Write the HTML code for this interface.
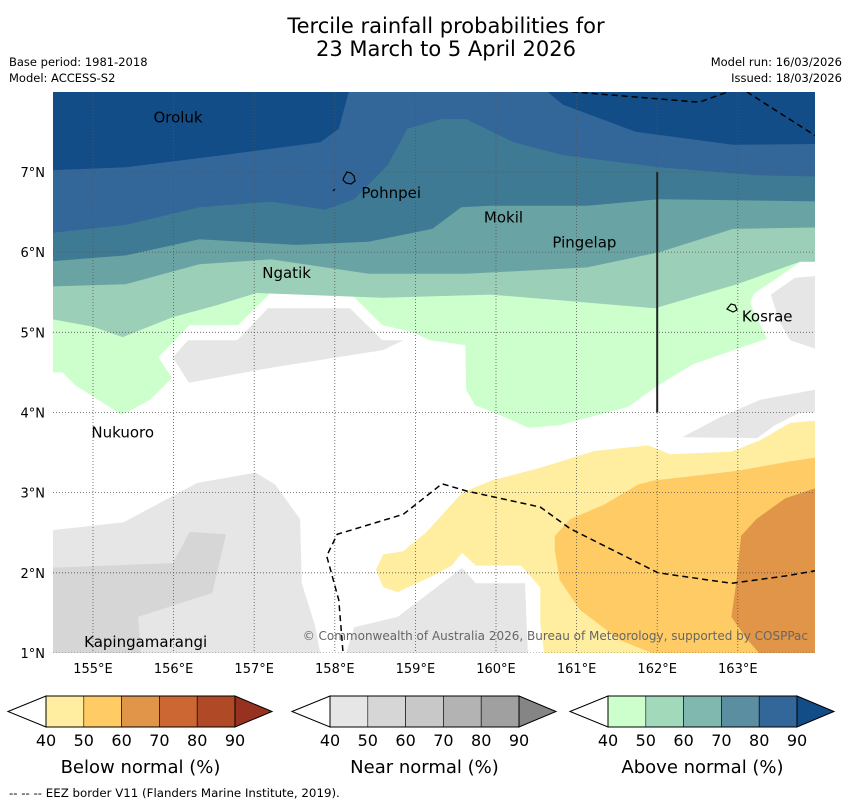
<!DOCTYPE html>
<html><head><meta charset="utf-8">
<style>
body{margin:0;background:#fff;font-family:"Liberation Sans","DejaVu Sans",sans-serif;}
svg text{font-family:"DejaVu Sans","Liberation Sans",sans-serif;}
</style></head>
<body>
<svg id="chart" width="850" height="804" viewBox="0 0 850 804" xmlns="http://www.w3.org/2000/svg">
<defs><clipPath id="mapclip"><rect x="53" y="92" width="762" height="561"/></clipPath></defs>
<text x="446" y="33" font-size="21" text-anchor="middle">Tercile rainfall probabilities for</text>
<text x="446" y="56" font-size="21" text-anchor="middle">23 March to 5 April 2026</text>
<text x="9" y="66" font-size="11.5">Base period: 1981-2018</text>
<text x="9" y="82" font-size="11.5">Model: ACCESS-S2</text>
<text x="842" y="66" font-size="11.5" text-anchor="end">Model run: 16/03/2026</text>
<text x="842" y="82" font-size="11.5" text-anchor="end">Issued: 18/03/2026</text>
<rect x="53" y="92" width="762" height="561" fill="#fff"/>
<g id="fills" clip-path="url(#mapclip)"></g>
<g id="grid" clip-path="url(#mapclip)"></g>
<g id="lines" clip-path="url(#mapclip)"></g>
<g id="labels"></g>
<g id="axes"></g>
<g id="legend"></g>
<text x="9" y="797" font-size="11.8">--  --  -- EEZ border V11 (Flanders Marine Institute, 2019).</text>
</svg>
<script>
// axis ticks
const lonTicks=[155,156,157,158,159,160,161,162,163];
const latTicks=[1,2,3,4,5,6,7];
// contour regions (lon,lat)
const aboveBands=[
 {c:"#ccffcc",b:[[154.4,4.5],[154.62,4.5],[154.78,4.34],[155.36,3.97],[155.71,4.16],[155.98,4.43],[155.81,4.69],[156.2,5.09],[156.8,5.09],[157.2,5.49],[158.19,5.49],[158.59,5.09],[158.97,5.0],[159.18,4.9],[159.62,4.84],[159.63,4.28],[159.74,4.09],[160.05,3.97],[160.4,3.81],[160.79,3.84],[161.64,4.07],[162.0,4.33],[162.44,4.6],[163.36,4.92],[163.15,5.37],[163.2,5.48],[163.78,5.88],[164.1,5.88]]},
 {c:"#9ccfb8",b:[[154.4,5.18],[155,5.07],[155.37,4.94],[155.99,5.19],[156.54,5.34],[157.03,5.49],[158.6,5.43],[159.93,5.47],[160.79,5.4],[161.97,5.3],[162.99,5.6],[163.77,5.88],[164.1,5.88]]},
 {c:"#6aa3a3",b:[[154.4,5.57],[155.41,5.6],[156.32,5.85],[157.21,5.91],[158.42,5.73],[159.63,5.73],[161.13,5.81],[162.03,6.0],[162.94,6.29],[164.1,6.31]]},
 {c:"#3f7a94",b:[[154.4,5.88],[155.41,5.96],[156.32,6.16],[157.52,6.09],[158.42,6.13],[159.21,6.29],[159.57,6.56],[159.93,6.58],[161.13,6.58],[162.03,6.66],[164.1,6.63]]},
 {c:"#336699",b:[[154.4,6.23],[155.41,6.34],[156.32,6.56],[157.21,6.63],[157.88,6.53],[158.24,6.66],[158.66,7.09],[158.9,7.54],[159.32,7.66],[159.63,7.66],[160.22,7.37],[160.83,7.21],[162.03,7.06],[163.24,6.96],[164.1,6.94]]}
];
const topDark1=[[154.4,8.1],[154.4,7.02],[155.41,7.06],[156.61,7.21],[157.82,7.37],[158.05,7.54],[158.2,8.1]];
const topDark2=[[160.52,8.1],[160.83,7.84],[161.74,7.5],[162.94,7.34],[164.1,7.35],[164.1,8.1]];
const nearRegions=[
 {c:"#e6e6e6",p:[[155.99,4.69],[156.18,4.9],[156.79,4.9],[157.17,5.3],[158.19,5.3],[158.59,4.9],[158.85,4.9],[158.6,4.78],[157.16,4.55],[156.19,4.37]]},
 {c:"#e6e6e6",p:[[163.41,5.47],[163.71,5.68],[164.1,5.71],[164.1,4.75],[163.65,4.9],[163.52,5.13]]},
 {c:"#e6e6e6",p:[[162.31,3.69],[162.78,3.94],[163.28,4.16],[164.1,4.31],[164.1,4.0],[163.77,4.0],[163.46,3.84],[163.24,3.68]]},
 {c:"#e6e6e6",p:[[154.4,2.52],[155.38,2.63],[156.29,3.12],[157.02,3.25],[157.26,3.1],[157.57,2.67],[157.59,1.87],[157.75,1.36],[157.84,0.9],[154.4,0.9]]},
 {c:"#d6d6d6",p:[[154.4,2.06],[155.99,2.12],[156.2,2.51],[156.65,2.48],[156.48,1.75],[155.56,1.45],[155.6,0.9],[154.4,0.9]]},
 {c:"#e6e6e6",p:[[158.11,0.9],[158.24,1.32],[158.78,1.45],[159.58,2.06],[159.75,1.87],[160.36,1.87],[160.4,0.9]]}
];
const belowRegions=[
 {c:"#ffeda0",p:[[158.51,2.04],[158.6,2.23],[158.85,2.27],[159.14,2.51],[159.58,3.0],[159.94,3.15],[160.55,3.31],[161.22,3.52],[161.89,3.59],[162.16,3.48],[162.92,3.51],[163.29,3.66],[163.65,3.87],[164.1,3.91],[164.1,0.9],[160.61,0.9],[160.55,1.36],[160.55,1.82],[160.31,2.09],[159.75,2.09],[159.58,2.25],[159.45,2.09],[159.21,1.96],[158.78,1.76],[158.6,1.82]]},
 {c:"#fecb65",p:[[160.73,2.46],[160.92,2.67],[161.34,2.85],[161.76,3.1],[161.95,3.15],[162.98,3.27],[163.65,3.39],[164.1,3.46],[164.1,0.9],[162.18,0.9],[161.54,1.16],[161.04,1.54],[160.79,1.91],[160.73,2.28]]},
 {c:"#e09548",p:[[164.1,3.1],[163.59,2.93],[163.23,2.67],[163.04,2.46],[162.98,1.87],[162.92,1.45],[163.1,1.19],[163.35,0.9],[164.1,0.9]]}
];
const eezLower=[[158.11,0.9],[158.05,1.66],[157.9,2.21],[158.03,2.48],[158.85,2.73],[159.33,3.11],[159.64,3.02],[160.55,2.82],[160.92,2.55],[162.01,2.0],[162.92,1.87],[163.59,1.96],[164.1,2.05]];
const eezTop1=[[160.94,8.0],[162.52,7.87],[162.88,8.0]];
const eezTop2=[[163.11,8.0],[163.95,7.46],[164.1,7.35]];
const boundaryLine=[[162.0,7.0],[162.0,4.0]];
const placeNames=["Oroluk","Pohnpei","Mokil","Pingelap","Ngatik","Kosrae","Nukuoro","Kapingamarangi"];
const placeLon=[155.75,158.33,159.85,160.7,157.1,163.05,154.98,154.89];
const placeLat=[7.68,6.74,6.43,6.12,5.74,5.2,3.75,1.14];
const cbLabels=["40","50","60","70","80","90"];
const belowColors=["#ffeda0","#fecb65","#e09548","#cc6633","#b04a26","#983220"];
const nearColors=["#e6e6e6","#d6d6d6","#c8c8c8","#b3b3b3","#a0a0a0","#858585"];
const aboveColors=["#ccffcc","#a2d9bb","#80b8b0","#5a8ea0","#336699","#124d87"];
const cbTitles=["Below normal (%)","Near normal (%)","Above normal (%)"];

const NS="http://www.w3.org/2000/svg";
function X(lon){return 93+(lon-155)*80.6;}
function Y(lat){return 653-(lat-1)*80.17;}
function mk(tag,attrs,parent){const e=document.createElementNS(NS,tag);for(const k in attrs)e.setAttribute(k,attrs[k]);parent.appendChild(e);return e;}
function pts(a){return a.map(p=>X(p[0]).toFixed(1)+","+Y(p[1]).toFixed(1)).join(" ");}
const fills=document.getElementById('fills');
aboveBands.forEach((b,i)=>{
  const poly=[[154.4,8.1]].concat(b.b).concat([[164.1,8.1]]);
  const e=mk('polygon',{points:pts(poly),fill:b.c},fills);
  
  
});
[topDark1,topDark2].forEach((p,i)=>{
  const e=mk('polygon',{points:pts(p),fill:"#124d87"},fills);
  
  
});
nearRegions.forEach((r,i)=>{
  const e=mk('polygon',{points:pts(r.p),fill:r.c},fills);
  
  
});
belowRegions.forEach((r,i)=>{
  const e=mk('polygon',{points:pts(r.p),fill:r.c},fills);
  
  
});
const grid=document.getElementById('grid');
lonTicks.forEach(l=>{
  const e=mk('line',{x1:X(l),x2:X(l),y1:92,y2:653,stroke:"#555","stroke-width":0.8,"stroke-dasharray":"1,2"},grid);
  
  
});
latTicks.forEach(l=>{
  const e=mk('line',{x1:53,x2:815,y1:Y(l),y2:Y(l),stroke:"#555","stroke-width":0.8,"stroke-dasharray":"1,2"},grid);
  
  
});
const lines=document.getElementById('lines');
[eezLower,eezTop1,eezTop2].forEach((p,i)=>{
  const e=mk('polyline',{points:pts(p),fill:"none",stroke:"#000","stroke-width":1.5,"stroke-dasharray":"6,4"},lines);
  
  
});
{
  const e=mk('polyline',{points:pts(boundaryLine),fill:"none",stroke:"#222","stroke-width":2},lines);
  
  
}
// islands
{
  const e=mk('path',{d:"M344,177 l3,-5 l4,1 l3,3 l1,5 l-4,3 l-5,-1 l-3,-3 z M333,191 l2,-2",fill:"none",stroke:"#000","stroke-width":1.2},lines);
  
  
  const k=mk('path',{d:"M727,309 l4,-5 l4,1 l2,5 l-4,2 z",fill:"none",stroke:"#000","stroke-width":1.2},lines);
  
  
}
const labels=document.getElementById('labels');
placeNames.forEach((n,i)=>{
  const t=mk('text',{x:X(placeLon[i]),y:Y(placeLat[i])+5,"font-size":15,fill:"#000"},labels);
  t.textContent=n;
  
  
});
{
  const t=mk('text',{x:808,y:640,"font-size":12,fill:"#666","text-anchor":"end"},labels);
  t.textContent="© Commonwealth of Australia 2026, Bureau of Meteorology, supported by COSPPac";
  
  
}
const axes=document.getElementById('axes');
lonTicks.forEach(l=>{
  const t=mk('text',{x:X(l),y:673,"font-size":13,"text-anchor":"middle"},axes);
  t.textContent=l+"°E";
  
  
});
latTicks.forEach(l=>{
  const t=mk('text',{x:45,y:Y(l)+5,"font-size":13,"text-anchor":"end"},axes);
  t.textContent=l+"°N";
  
  
});
const legend=document.getElementById('legend');
const cbX=[46,330,608];
[belowColors,nearColors,aboveColors].forEach((cols,k)=>{
  const x0=cbX[k],w=37.8,y0=696,h=31,ym=711.5,x1=x0+5*w;
  const g=mk('g',{},legend);
  
  
  const lt=mk('polygon',{points:`${x0-38},${ym} ${x0},${y0} ${x0},${y0+h}`,fill:"#fff",stroke:"#000","stroke-width":1},g);
  
  
  for(let i=0;i<5;i++){
    const r=mk('rect',{x:x0+i*w,y:y0,width:w,height:h,fill:cols[i],stroke:"#000","stroke-width":0.6},g);
    
    
  }
  const rt=mk('polygon',{points:`${x1},${y0} ${x1+37},${ym} ${x1},${y0+h}`,fill:cols[5],stroke:"#000","stroke-width":1},g);
  
  
  mk('rect',{x:x0,y:y0,width:5*w,height:h,fill:"none",stroke:"#000","stroke-width":1},g);
  cbLabels.forEach((s,i)=>{
    const t=mk('text',{x:x0+i*w,y:746,"font-size":16,"text-anchor":"middle"},g);
    t.textContent=s;
    
    
  });
  const tt=mk('text',{x:x0+2.5*w,y:773,"font-size":18,"text-anchor":"middle"},g);
  tt.textContent=cbTitles[k];
  
  
});
</script>
</body></html>
